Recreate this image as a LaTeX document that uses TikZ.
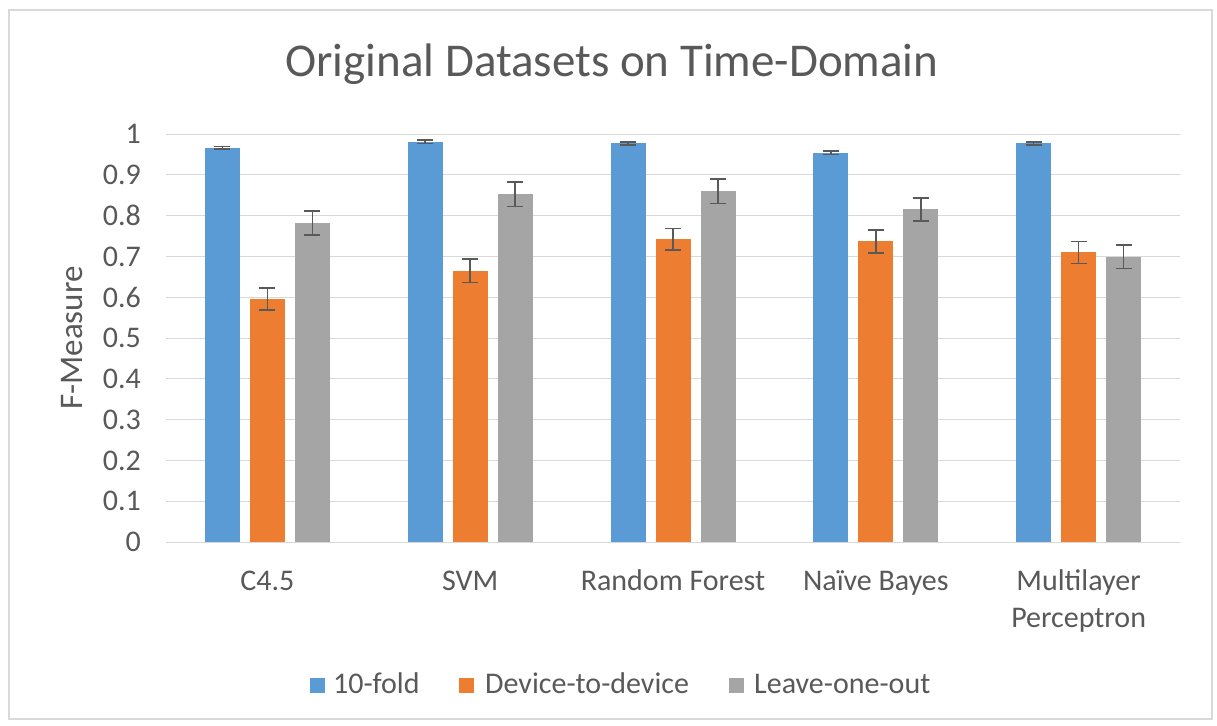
\documentclass[tikz,border=0pt]{standalone}
\usepackage{fontspec}
\setmainfont{Carlito}
\definecolor{txt}{HTML}{595959}
\definecolor{gridc}{HTML}{D9D9D9}
\definecolor{bluec}{HTML}{5B9BD5}
\definecolor{orangec}{HTML}{ED7D31}
\definecolor{grayc}{HTML}{A5A5A5}
\tikzset{
  frame/.style={draw=gridc, line width=2pt},
  gridline/.style={draw=gridc, line width=1pt},
  ticklabel/.style={font=\fontsize{30}{36}\selectfont, text=txt, inner sep=0pt},
  catlabel/.style={font=\fontsize{30}{36}\selectfont, text=txt, inner sep=0pt, anchor=base},
  titlelabel/.style={font=\fontsize{47}{56}\selectfont, text=txt, inner sep=0pt, anchor=base},
  axislabel/.style={font=\fontsize{33}{40}\selectfont, text=txt, inner sep=0pt},
  errbar/.style={draw=txt, line width=1.6pt},
  legendtext/.style={font=\fontsize{30}{36}\selectfont, text=txt, inner sep=0pt, anchor=base west},
}
\begin{document}
\begin{tikzpicture}[x=1pt,y=-1pt]
\useasboundingbox (0,0) rectangle (1217,725);
\fill[white] (0,0) rectangle (1217,725);
\draw[frame] (9,10) rectangle (1212,719);
% title
\node[titlelabel] (title) at (612,77) {Original Datasets on Time-Domain};
% grid
\foreach \k in {0,...,10}{
  \draw[gridline] (166,{542-40.8*\k}) -- (1180,{542-40.8*\k});
}
\foreach \k in {1,...,9}{
  \node[ticklabel, anchor=east] (t\k) at (141,{542-40.8*\k}) {0.\k};
}
\node[ticklabel, anchor=east] (t0) at (141,542) {0};
\node[ticklabel, anchor=east] (t10) at (141,134) {1};
% axis title
\node[axislabel, rotate=90] (ylab) at (72,338) {F-Measure};
% bars
\foreach \i/\a/\ae/\b/\be/\c/\ce in {
  0/0.966/0.003/0.595/0.027/0.782/0.030,
  1/0.981/0.004/0.665/0.029/0.852/0.030,
  2/0.977/0.004/0.742/0.026/0.860/0.030,
  3/0.954/0.004/0.737/0.028/0.815/0.028,
  4/0.977/0.004/0.710/0.027/0.699/0.029}{
  \pgfmathsetmacro{\cx}{166+202.8*(\i+0.5)}
  \fill[bluec] ({\cx-62.5},542) rectangle ({\cx-27.5},{542-408*\a});
  \fill[orangec] ({\cx-17.5},542) rectangle ({\cx+17.5},{542-408*\b});
  \fill[grayc] ({\cx+27.5},542) rectangle ({\cx+62.5},{542-408*\c});
  \foreach \dx/\v/\e in {-45/\a/\ae, 0/\b/\be, 45/\c/\ce}{
    \draw[errbar] ({\cx+\dx},{542-408*(\v+\e)}) -- ({\cx+\dx},{542-408*(\v-\e)});
    \draw[errbar] ({\cx+\dx-8},{542-408*(\v+\e)}) -- ({\cx+\dx+8},{542-408*(\v+\e)});
    \draw[errbar] ({\cx+\dx-8},{542-408*(\v-\e)}) -- ({\cx+\dx+8},{542-408*(\v-\e)});
  }
}
% category labels
\node[catlabel] (c1) at (267.4,590) {C4.5};
\node[catlabel] (c2) at (470.2,590) {SVM};
\node[catlabel] (c3) at (673.0,590) {Random Forest};
\node[catlabel] (c4) at (875.8,590) {Naïve Bayes};
\node[catlabel] (c5a) at (1078.6,590) {Multilayer};
\node[catlabel] (c5b) at (1078.6,627) {Perceptron};
% legend
\fill[bluec] (310,678) rectangle (325,693);
\node[legendtext] (l1) at (333,693) {10-fold};
\fill[orangec] (459,678) rectangle (474,693);
\node[legendtext] (l2) at (485,693) {Device-to-device};
\fill[grayc] (729,678) rectangle (744,693);
\node[legendtext] (l3) at (754,693) {Leave-one-out};
\end{tikzpicture}
\end{document}
